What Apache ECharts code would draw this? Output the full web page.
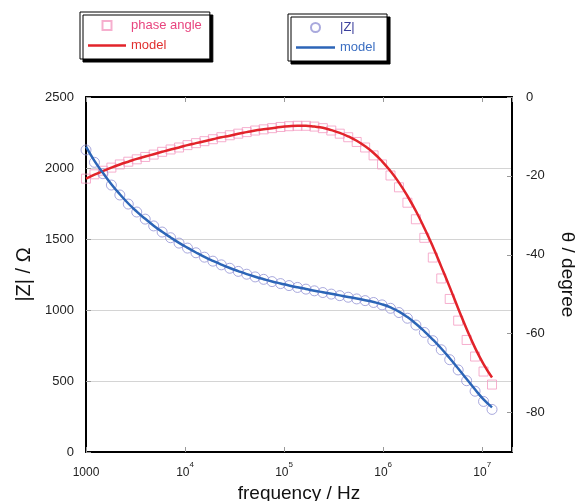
<!DOCTYPE html>
<html>
<head>
<meta charset="utf-8">
<script src="https://cdn.jsdelivr.net/npm/echarts@6/dist/echarts.min.js"></script>
<style>
html, body { margin: 0; padding: 0; background: #fff; }
#main { width: 578px; height: 501px; }
</style>
</head>
<body>
<div id="main"></div>
<script>
var myChart = echarts.init(document.getElementById('main'));

// frequency / Hz
var freqs = [1000, 1217, 1482, 1804, 2196, 2673, 3254, 3961, 4822, 5870,
    7145, 8698, 10590, 12890, 15690, 19100, 23250, 28300, 34450, 41940,
    51050, 62140, 75650, 92080, 112100, 136500, 166100, 202200, 246100, 299600,
    364800, 444000, 540500, 658000, 801000, 975000, 1187000, 1445000, 1759000, 2141000,
    2606000, 3173000, 3862000, 4701000, 5723000, 6966000, 8480000, 10320000, 12570000];

// |Z| / Ohm, measured
var zData = [2127, 2040, 1960, 1880, 1810, 1746, 1690, 1640, 1592, 1549,
    1509, 1471, 1436, 1403, 1372, 1344, 1318, 1294, 1272, 1252,
    1233, 1216, 1200, 1186, 1172, 1159, 1147, 1135, 1123, 1112,
    1101, 1090, 1078, 1066, 1053, 1036, 1012, 982, 942, 894,
    842, 784, 720, 650, 578, 502, 428, 356, 300];

// |Z| model fit
var zModel = [2150, 2050, 1966, 1886, 1815, 1750, 1693, 1642, 1594, 1551,
    1511, 1473, 1438, 1405, 1374, 1346, 1320, 1296, 1274, 1253,
    1234, 1217, 1201, 1187, 1173, 1160, 1148, 1136, 1125, 1114,
    1103, 1092, 1081, 1069, 1056, 1040, 1018, 989, 950, 903,
    850, 792, 729, 660, 588, 514, 440, 370, 314];

// phase angle / degree, measured
var phaseData = [-20.7, -19.6, -18.7, -17.9, -17.1, -16.4, -15.8, -15.2, -14.6, -13.9,
    -13.3, -12.8, -12.2, -11.7, -11.2, -10.7, -10.2, -9.7, -9.3, -8.9,
    -8.5, -8.2, -7.9, -7.6, -7.4, -7.3, -7.3, -7.5, -7.9, -8.5,
    -9.3, -10.2, -11.4, -12.8, -14.8, -17.1, -19.9, -22.9, -26.8, -31.0,
    -35.7, -40.7, -46.0, -51.2, -56.7, -61.6, -65.8, -69.6, -72.9];

// phase model fit
var phaseModel = [-20.7, -19.7, -18.8, -17.9, -17.1, -16.4, -15.7, -15.1, -14.5, -13.9,
    -13.3, -12.8, -12.2, -11.7, -11.2, -10.7, -10.2, -9.8, -9.3, -8.9,
    -8.5, -8.2, -7.9, -7.6, -7.4, -7.3, -7.3, -7.5, -7.8, -8.4,
    -9.1, -10.0, -11.1, -12.5, -14.2, -16.3, -18.8, -21.7, -25.1, -28.9,
    -33.2, -37.9, -43.0, -48.2, -53.6, -58.8, -63.6, -67.7, -71.1];

var thetaTicks = [-80, -60, -40, -20, 0];

function pairs(ys) {
    var res = [];
    for (var i = 0; i < freqs.length; i++) {
        res.push([freqs[i], ys[i]]);
    }
    return res;
}

var font = 'Liberation Sans, Arial, sans-serif';
var tickStyle = { show: true, inside: true, length: 5, lineStyle: { color: '#999', width: 1 } };
// legend icons (kept square by symbolKeepAspect)
var boxIcon = 'path://M0,0L10,0L10,10L0,10Z';
var ringIcon = 'path://M5,0A5,5 0 1,1 5,10A5,5 0 1,1 5,0Z';
var barIcon = 'path://M0,0L40,0L40,2.6L0,2.6Z';

var legendBase = {
    orient: 'vertical',
    padding: [7, 8, 7, 8],
    itemHeight: 9, itemGap: 7,
    symbolKeepAspect: true,
    backgroundColor: '#fff',
    borderColor: '#000', borderWidth: 1,
    shadowColor: '#000', shadowBlur: 0, shadowOffsetX: 3, shadowOffsetY: 3,
    textStyle: { fontSize: 13, fontFamily: font }
};

option = {
    backgroundColor: '#fff',
    textStyle: { fontFamily: font },
    animation: false,
    legend: [
        echarts.util.merge({
            left: 80, top: 12, itemWidth: 38,
            data: [
                { name: 'phase angle', icon: boxIcon, textStyle: { color: '#e8457f' } },
                { name: 'model', icon: barIcon, textStyle: { color: '#e0302f' } }
            ]
        }, legendBase),
        echarts.util.merge({
            left: 288, top: 14, itemWidth: 39,
            data: [
                { name: '|Z|', icon: ringIcon, textStyle: { color: '#3b3f9c' } },
                { name: 'model ', icon: barIcon, textStyle: { color: '#3c6fc2' } }
            ]
        }, legendBase)
    ],
    grid: { left: 86, right: 66, top: 97, bottom: 49, containLabel: false, outerBoundsMode: 'none' },
    xAxis: [
        {
            type: 'log', logBase: 10, min: 1000, max: 20000000,
            position: 'bottom',
            name: 'frequency / Hz', nameLocation: 'middle', nameGap: 26,
            nameTextStyle: { fontSize: 19, color: '#111' },
            axisLine: { show: true, lineStyle: { color: '#000', width: 2 } },
            axisTick: tickStyle,
            minorTick: { show: false },
            splitLine: { show: false },
            axisLabel: {
                margin: 9,
                color: '#222',
                formatter: function (v) {
                    var l = Math.log10(v);
                    var e = Math.round(l);
                    if (Math.abs(l - e) > 1e-6) return '';
                    if (e === 3) return '{b|1000}';
                    return '{b|10}{s|' + e + '}';
                },
                rich: {
                    b: { fontSize: 12, lineHeight: 18, verticalAlign: 'bottom', color: '#222' },
                    s: { fontSize: 8, verticalAlign: 'top', color: '#222' }
                }
            }
        },
        {
            type: 'log', logBase: 10, min: 1000, max: 20000000,
            position: 'top',
            axisLine: { show: true, lineStyle: { color: '#000', width: 2 } },
            axisTick: tickStyle,
            splitLine: { show: false },
            axisLabel: { show: false }
        }
    ],
    yAxis: [
        {
            type: 'value', min: 0, max: 2500, interval: 500,
            position: 'left',
            name: '|Z| / Ω', nameLocation: 'middle', nameGap: 50,
            nameTextStyle: { fontSize: 20, color: '#111' },
            axisLine: { show: true, lineStyle: { color: '#000', width: 2 } },
            axisTick: tickStyle,
            axisLabel: { fontSize: 13, color: '#222', margin: 12, formatter: function (v) { return String(v); } },
            splitLine: { show: true, lineStyle: { color: '#d4d4d4', width: 1 } }
        },
        {
            type: 'value', min: -90, max: 0,
            position: 'right',
            name: 'θ / degree', nameLocation: 'middle', nameGap: 46, nameRotate: -90,
            nameTextStyle: { fontSize: 19, color: '#111' },
            axisLine: { show: true, lineStyle: { color: '#000', width: 2 } },
            axisTick: { show: true, inside: true, length: 5, customValues: thetaTicks, lineStyle: { color: '#999', width: 1 } },
            axisLabel: { fontSize: 13, color: '#222', margin: 14, customValues: thetaTicks },
            splitLine: { show: false }
        }
    ],
    series: [
        {
            name: 'phase angle',
            type: 'scatter',
            xAxisIndex: 0, yAxisIndex: 1,
            symbol: 'rect', symbolSize: 9,
            itemStyle: { color: 'rgba(255,255,255,0)', borderColor: '#f49bc2', borderWidth: 1 },
            data: pairs(phaseData),
            z: 2
        },
        {
            name: '|Z|',
            type: 'scatter',
            xAxisIndex: 0, yAxisIndex: 0,
            symbol: 'circle', symbolSize: 10,
            itemStyle: { color: 'rgba(255,255,255,0)', borderColor: '#9494d4', borderWidth: 1 },
            data: pairs(zData),
            z: 2
        },
        {
            name: 'model',
            type: 'line',
            xAxisIndex: 0, yAxisIndex: 1,
            smooth: true, symbol: 'none',
            lineStyle: { color: '#e2232a', width: 2.5 },
            itemStyle: { color: '#e2232a' },
            data: pairs(phaseModel),
            z: 3
        },
        {
            name: 'model ',
            type: 'line',
            xAxisIndex: 0, yAxisIndex: 0,
            smooth: true, symbol: 'none',
            lineStyle: { color: '#2c65b7', width: 2.5 },
            itemStyle: { color: '#2c65b7' },
            data: pairs(zModel),
            z: 4
        }
    ]
};

myChart.setOption(option);
</script>
</body>
</html>
